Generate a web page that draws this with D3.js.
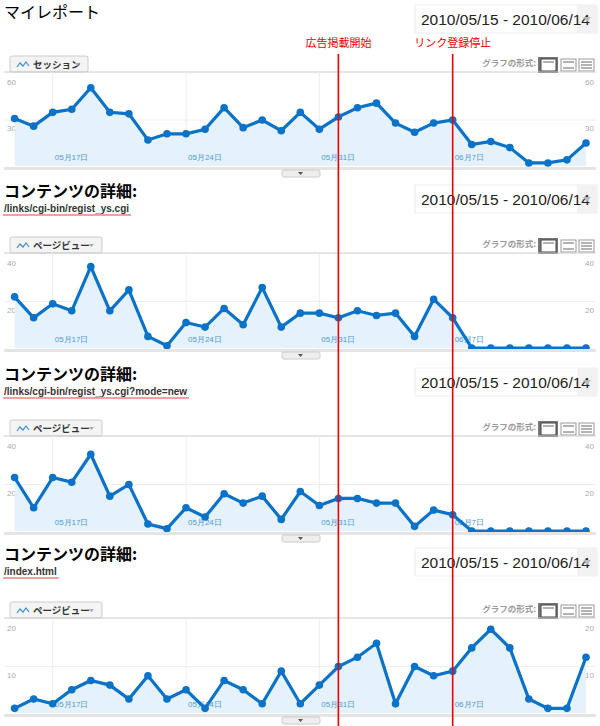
<!DOCTYPE html>
<html><head><meta charset="utf-8">
<script src="https://cdn.jsdelivr.net/npm/d3@7"></script>
<style>body{margin:0;background:#fff;font-family:"Noto Sans CJK JP",sans-serif}</style>
</head><body><svg id="c" width="600" height="726"></svg>
<script>
const dates = d3.range(31).map(i => new Date(2010, 4, 15 + i));
const sessions = [31,26,35,37,51,35,34,17,21,21,24,38,25,30,23,35,24,32,38,41,28,22,28,30,14,16,12,2,2,4,15];
const pv1 = [22,13,19,16,35,16,25,5,1,11,9,17,10,26,9,15,15,13,16,14,15,5,21,13,0,0,0,0,0,0,0];
const pv2 = [23,10,23,21,33,15,20,3,1,10,6,16,12,15,5,17,11,14,14,12,12,2,9,7,0,0,0,0,0,0,0];
const pv3 = [1,3,2,5,7,6,3,8,3,5,1,7,5,2,9,2,6,10,12,15,2,10,8,9,14,18,14,3,1,1,12];
const tickDates = [new Date(2010,4,17), new Date(2010,4,24), new Date(2010,4,31), new Date(2010,5,7)];
const tickLabels = ["05月17日","05月24日","05月31日","06月7日"];
const markers = [{d:new Date(2010,5,1), label:"広告掲載開始"},{d:new Date(2010,5,7), label:"リンク登録停止"}];
const dateRange = "2010/05/15 - 2010/06/14";

const panels = [
 {data:sessions, max:60, tab:"セッション", tabW:78, top:72, bottom:166, title:"マイレポート", path:null, hy:18, box:5},
 {data:pv1, max:40, tab:"ページビュー", tabW:92, top:253, bottom:348, title:"コンテンツの詳細:", path:"/links/cgi-bin/regist_ys.cgi", hy:197, box:185},
 {data:pv2, max:40, tab:"ページビュー", tabW:92, top:436, bottom:531, title:"コンテンツの詳細:", path:"/links/cgi-bin/regist_ys.cgi?mode=new", hy:380, box:368},
 {data:pv3, max:20, tab:"ページビュー", tabW:92, top:618, bottom:713, title:"コンテンツの詳細:", path:"/index.html", hy:560, box:548}
];
const svg = d3.select("#c");
const x = d3.scaleTime().domain([dates[0], dates[30]]).range([14.6, 586]);

panels.forEach(p => {
  const g = svg.append("g");
  // header
  g.append("text").attr("x",4).attr("y",p.hy).attr("font-size",16).attr("fill","#000")
    .attr("font-weight", p.path ? "bold" : "normal").text(p.title);
  if (p.path) {
    const t = g.append("text").attr("x",4).attr("y",p.hy+15).attr("font-size",10).attr("font-weight","bold")
      .attr("fill","#333").attr("font-family","Liberation Sans, Arial").text(p.path);
    const w = t.node().getComputedTextLength();
    g.append("line").attr("x1",3).attr("x2",6+w).attr("y1",p.hy+18).attr("y2",p.hy+18).attr("stroke","#f08080").attr("stroke-width",1.5);
  }
  g.append("rect").attr("x",415).attr("y",p.box).attr("width",182).attr("height",28).attr("fill","#fff").attr("stroke","#eee");
  g.append("rect").attr("x",577).attr("y",p.box).attr("width",20).attr("height",28).attr("fill","#f2f2f2");
  g.append("text").attr("x",421).attr("y",p.box+20).attr("font-size",15.5).attr("font-family","Liberation Sans, Arial").attr("fill","#222").text(dateRange);
  g.append("path").attr("d",`M583,${p.box+12}l8,0l-4,5z`).attr("fill","#bbb");
  // tab
  const ty = p.top - 16;
  g.append("rect").attr("x",10).attr("y",ty).attr("width",p.tabW).attr("height",16).attr("rx",2).attr("fill","#f4f4f4").attr("stroke","#ccc");
  g.append("path").attr("d",`M17,${ty+11}l3,-4l3,3l3,-4l3,4`).attr("fill","none").attr("stroke","#3a8fd8").attr("stroke-width",1.2);
  g.append("text").attr("x",33).attr("y",ty+12).attr("font-size",9.5).attr("font-weight","bold").attr("fill","#333").text(p.tab);
  g.append("path").attr("d",`M${p.tabW-3},${ty+7}l5,0l-2.5,3z`).attr("fill","#aaa");
  g.append("text").attr("x",536).attr("y",ty+10).attr("text-anchor","end").attr("font-size",8.5).attr("font-weight","bold").attr("fill","#999").text("グラフの形式:");
  g.append("rect").attr("x",538).attr("y",ty+1).attr("width",20).attr("height",16).attr("fill","#777");
  [540,560,578].forEach((bx,i)=>{
    g.append("rect").attr("x",bx+1).attr("y",ty+3).attr("width",15).attr("height",12).attr("fill","#fff").attr("stroke",i==0?"#444":"#999");
    g.append("line").attr("x1",bx+3).attr("x2",bx+14).attr("y1",ty+6).attr("y2",ty+6).attr("stroke","#666");
    if(i==2){[9,12].forEach(o=>g.append("line").attr("x1",bx+3).attr("x2",bx+14).attr("y1",ty+o).attr("y2",ty+o).attr("stroke","#666"));}
    if(i==1){g.append("line").attr("x1",bx+3).attr("x2",bx+14).attr("y1",ty+12).attr("y2",ty+12).attr("stroke","#666");}
  });
  // plot frame
  const y = d3.scaleLinear().domain([0,p.max]).range([p.bottom, p.top+2]);
  g.append("line").attr("x1",4).attr("x2",596).attr("y1",p.top).attr("y2",p.top).attr("stroke","#ccc");
  g.append("line").attr("x1",4).attr("x2",596).attr("y1",y(p.max/2)).attr("y2",y(p.max/2)).attr("stroke","#eee");
  tickDates.forEach((d,i)=>{
    g.append("line").attr("x1",x(d)).attr("x2",x(d)).attr("y1",p.top).attr("y2",p.bottom).attr("stroke","#eee");
  });
  [p.max, p.max/2].forEach(v=>{
    g.append("text").attr("x",7).attr("y",y(v)+11).attr("font-size",8).attr("fill","#aaa").attr("font-family","Liberation Sans, Arial").text(v);
    g.append("text").attr("x",594).attr("y",y(v)+11).attr("text-anchor","end").attr("font-size",8).attr("fill","#aaa").attr("font-family","Liberation Sans, Arial").text(v);
  });
  const area = d3.area().x((d,i)=>x(dates[i])).y0(p.bottom).y1(d=>y(d));
  const line = d3.line().x((d,i)=>x(dates[i])).y(d=>y(d));
  g.append("path").datum(p.data).attr("d",area).attr("fill","#e6f2fb");
  tickDates.forEach((d,i)=>{
    g.append("text").attr("x",x(d)+2).attr("y",p.bottom-6).attr("font-size",8).attr("fill","#4a9ad8").attr("font-family","Liberation Sans, Arial").text(tickLabels[i]);
  });
  g.append("path").datum(p.data).attr("d",line).attr("fill","none").attr("stroke","#0a72c8").attr("stroke-width",3.2);
  g.selectAll("circle.pt").data(p.data).join("circle").attr("cx",(d,i)=>x(dates[i])).attr("cy",d=>y(d)).attr("r",3.8).attr("fill","#0a72c8");
  g.append("rect").attr("x",4).attr("y",p.bottom+1).attr("width",592).attr("height",3).attr("fill","#e4e4e4");
  g.append("rect").attr("x",282).attr("y",p.bottom+4).attr("width",38).attr("height",7).attr("rx",2).attr("fill","#eee").attr("stroke","#ccc");
  g.append("path").attr("d",`M298,${p.bottom+6}l5,0l-2.5,3z`).attr("fill","#555");
});
// markers
markers.forEach(m=>{
  svg.append("line").attr("x1",x(m.d)).attr("x2",x(m.d)).attr("y1",54).attr("y2",726).attr("stroke","#e00").attr("stroke-width",1.6);
  svg.append("text").attr("x",x(m.d)).attr("y",47).attr("text-anchor","middle").attr("font-size",11).attr("fill","#e00").text(m.label);
});
</script></body></html>
